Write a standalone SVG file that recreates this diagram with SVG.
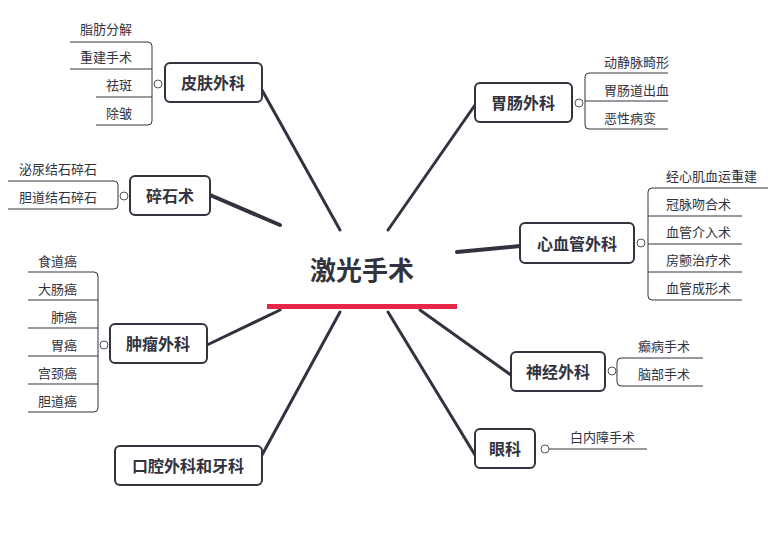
<svg xmlns="http://www.w3.org/2000/svg" width="782" height="539" viewBox="0 0 782 539">
<style>
.n{fill:#fff;stroke:#333340;stroke-width:2}
.nt{font-family:"Noto Sans CJK SC",sans-serif;font-size:16px;font-weight:bold;fill:#333340;text-anchor:middle}
.lt{font-family:"Noto Sans CJK SC",sans-serif;font-size:13px;fill:#333340}
.u{stroke:#333340;stroke-width:1;fill:none}
.c{fill:#fff;stroke:#555;stroke-width:1}
.k{stroke:#333340;stroke-width:3;fill:none;stroke-linecap:round}
</style>
<rect width="782" height="539" fill="#fff"/>
<g id="connectors">
<path class="k" d="M262,90 L340,230"/>
<path class="k" d="M210,195 L280,225" style="stroke-width:4"/>
<path class="k" d="M207,345 L280,310"/>
<path class="k" d="M262,455 L340,312"/>
<path class="k" d="M475,105 L388,230"/>
<path class="k" d="M520,246 L457,252" style="stroke-width:4"/>
<path class="k" d="M511,375 L420,310"/>
<path class="k" d="M475,455 L388,312"/>
</g>
<g id="center">
<text x="362" y="280" style="font-family:'Noto Sans CJK SC',sans-serif;font-size:26px;font-weight:bold;fill:#333340" text-anchor="middle">激光手术</text>
<rect x="267" y="304" width="190" height="5" fill="#e8264a"/>
</g>
<g id="pifu">
<rect class="n" x="165" y="63" width="97" height="39" rx="5"/>
<text class="nt" x="213" y="89">皮肤外科</text>
<circle class="c" cx="158" cy="84" r="4"/>
<path class="u" d="M70,42 H148 Q152,42 152,46 V121 Q152,125 148,125 H96 M70,69 H152 M96,97 H152"/>
<text class="lt" x="80" y="34">脂肪分解</text>
<text class="lt" x="80" y="62">重建手术</text>
<text class="lt" x="106" y="90">祛斑</text>
<text class="lt" x="106" y="118">除皱</text>
</g>
<g id="suishi">
<rect class="n" x="130" y="176" width="80" height="39" rx="5"/>
<text class="nt" x="170" y="202">碎石术</text>
<circle class="c" cx="124" cy="196" r="4"/>
<path class="u" d="M8,181 H114 Q118,181 118,185 V205 Q118,209 114,209 H8"/>
<text class="lt" x="19" y="174">泌尿结石碎石</text>
<text class="lt" x="19" y="202">胆道结石碎石</text>
</g>
<g id="zhongliu">
<rect class="n" x="110" y="324" width="97" height="39" rx="5"/>
<text class="nt" x="158" y="350">肿瘤外科</text>
<circle class="c" cx="104" cy="345" r="4"/>
<path class="u" d="M28,272 H94 Q98,272 98,276 V408 Q98,412 94,412 H28 M28,300 H98 M28,328 H98 M28,356 H98 M28,384 H98"/>
<text class="lt" x="38" y="266">食道癌</text>
<text class="lt" x="38" y="294">大肠癌</text>
<text class="lt" x="51" y="322">肺癌</text>
<text class="lt" x="51" y="350">胃癌</text>
<text class="lt" x="38" y="378">宫颈癌</text>
<text class="lt" x="38" y="406">胆道癌</text>
</g>
<g id="kouqiang">
<rect class="n" x="115" y="446" width="147" height="39" rx="5"/>
<text class="nt" x="188" y="472">口腔外科和牙科</text>
</g>
<g id="weichang">
<rect class="n" x="475" y="83" width="97" height="39" rx="5"/>
<text class="nt" x="523" y="109">胃肠外科</text>
<circle class="c" cx="579" cy="103" r="4"/>
<path class="u" d="M668,73 H589 Q585,73 585,77 V125 Q585,129 589,129 H668 M585,101 H668"/>
<text class="lt" x="604" y="67">动静脉畸形</text>
<text class="lt" x="604" y="95">胃肠道出血</text>
<text class="lt" x="604" y="123">恶性病变</text>
</g>
<g id="xinxueguan">
<rect class="n" x="520" y="223" width="114" height="40" rx="5"/>
<text class="nt" x="577" y="250">心血管外科</text>
<circle class="c" cx="641" cy="243" r="4"/>
<path class="u" d="M768,188 H652 Q648,188 648,192 V296 Q648,300 652,300 H742 M648,216 H742 M648,244 H742 M648,272 H742"/>
<text class="lt" x="666" y="181">经心肌血运重建</text>
<text class="lt" x="666" y="209">冠脉吻合术</text>
<text class="lt" x="666" y="237">血管介入术</text>
<text class="lt" x="666" y="265">房颤治疗术</text>
<text class="lt" x="666" y="293">血管成形术</text>
</g>
<g id="shenjing">
<rect class="n" x="511" y="352" width="94" height="39" rx="5"/>
<text class="nt" x="558" y="378">神经外科</text>
<circle class="c" cx="612" cy="371" r="4"/>
<path class="u" d="M703,358 H621 Q617,358 617,362 V382 Q617,386 621,386 H703"/>
<text class="lt" x="638" y="351">癫病手术</text>
<text class="lt" x="638" y="379">脑部手术</text>
</g>
<g id="yanke">
<rect class="n" x="475" y="429" width="60" height="39" rx="5"/>
<text class="nt" x="505" y="455">眼科</text>
<circle class="c" cx="545" cy="449" r="4"/>
<path class="u" d="M549,449 H647"/>
<text class="lt" x="570" y="442">白内障手术</text>
</g>
</svg>
